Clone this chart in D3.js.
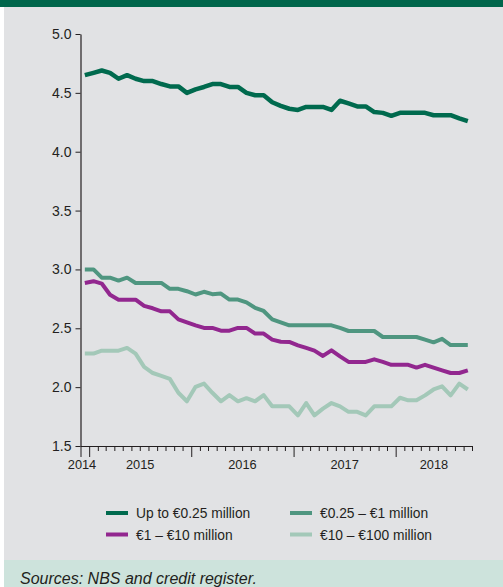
<!DOCTYPE html>
<html>
<head>
<meta charset="utf-8">
<script src="https://cdn.jsdelivr.net/npm/d3@7"></script>
<style>
  body { margin: 0; background: #ffffff; }
  svg { display: block; font-family: "Liberation Sans", Arial, sans-serif; }
</style>
</head>
<body>
<div id="chart"></div>
<script>
"use strict";
const serie_nombres = ["Up to €0.25 million", "€0.25 – €1 million", "€1 – €10 million", "€10 – €100 million"];
const serie_colores = ["#006a4e", "#4f9680", "#92278f", "#a3c8b8"];
const anios = ["2014", "2015", "2016", "2017", "2018"];
const y_ticks = [1.5, 2.0, 2.5, 3.0, 3.5, 4.0, 4.5, 5.0];
// monthly observations, Dec 2014 .. Sep 2018
const primer_mes = new Date(2014, 11, 1);
const num_meses = 46;
const hasta_025 = [4.65, 4.67, 4.69, 4.67, 4.62, 4.65, 4.62, 4.60, 4.60, 4.575,
    4.555, 4.555, 4.50, 4.53, 4.55, 4.575, 4.575, 4.55, 4.55, 4.50,
    4.48, 4.48, 4.42, 4.39, 4.365, 4.355, 4.38, 4.38, 4.38, 4.355,
    4.433, 4.41, 4.385, 4.385, 4.337, 4.33, 4.305, 4.33, 4.33, 4.33,
    4.33, 4.31, 4.31, 4.31, 4.283, 4.26];
const de_025_a_1 = [3.0, 3.0, 2.93, 2.93, 2.905, 2.93, 2.885, 2.885, 2.885, 2.885,
    2.835, 2.835, 2.815, 2.787, 2.81, 2.79, 2.795, 2.744, 2.744, 2.72,
    2.673, 2.647, 2.576, 2.55, 2.525, 2.525, 2.525, 2.525, 2.525, 2.525,
    2.503, 2.477, 2.477, 2.477, 2.477, 2.426, 2.426, 2.426, 2.426, 2.426,
    2.404, 2.381, 2.41, 2.358, 2.358, 2.358];
const de_1_a_10 = [2.885, 2.90, 2.88, 2.785, 2.743, 2.743, 2.743, 2.69, 2.67, 2.644,
    2.644, 2.576, 2.55, 2.525, 2.503, 2.503, 2.48, 2.48, 2.503, 2.503,
    2.455, 2.455, 2.404, 2.386, 2.384, 2.355, 2.333, 2.31, 2.265, 2.313,
    2.262, 2.214, 2.214, 2.214, 2.236, 2.214, 2.19, 2.19, 2.19, 2.166,
    2.19, 2.166, 2.143, 2.12, 2.12, 2.143];
const de_10_a_100 = [2.285, 2.285, 2.31, 2.31, 2.31, 2.333, 2.285, 2.172, 2.12, 2.096,
    2.07, 1.952, 1.88, 2.003, 2.03, 1.952, 1.88, 1.932, 1.88, 1.906,
    1.88, 1.932, 1.837, 1.837, 1.837, 1.76, 1.865, 1.76, 1.817, 1.865,
    1.837, 1.79, 1.79, 1.76, 1.837, 1.837, 1.837, 1.91, 1.888, 1.888,
    1.93, 1.98, 2.007, 1.93, 2.03, 1.98];
const series = [hasta_025, de_025_a_1, de_1_a_10, de_10_a_100];

const width = 503, height = 587;
const svg = d3.select("#chart").append("svg")
    .attr("width", width)
    .attr("height", height);

// panels
svg.append("rect").attr("x", 4).attr("y", 0).attr("width", width - 4).attr("height", 560).attr("fill", "#e1e2e4");
svg.append("rect").attr("x", 0).attr("y", 0).attr("width", width).attr("height", 7).attr("fill", "#00664b");
svg.append("rect").attr("x", 4).attr("y", 560).attr("width", width - 4).attr("height", 27).attr("fill", "#cde3dc");
svg.append("text")
    .attr("x", 20)
    .attr("y", 584)
    .style("font-size", "16px")
    .style("font-style", "italic")
    .attr("fill", "#231f20")
    .text("Sources: NBS and credit register.");

const meses = d3.timeMonth.range(primer_mes, d3.timeMonth.offset(primer_mes, num_meses + 1));
const x = d3.scaleTime()
    .domain([primer_mes, d3.timeMonth.offset(primer_mes, num_meses)])
    .range([80.5, 472]);
const y = d3.scaleLinear()
    .domain([1.5, 5.0])
    .range([446, 34]);
function fn_centro_mes(i) {
    let m = d3.timeMonth.offset(primer_mes, i);
    return (x(m) + x(d3.timeMonth.offset(m, 1))) / 2;
}

// y axis
let g_y = svg.append("g")
    .attr("transform", "translate(80.5,0)")
    .call(d3.axisLeft(y).tickValues(y_ticks).tickFormat(d3.format(".1f")).tickSize(5).tickSizeOuter(0).tickPadding(4));
g_y.select(".domain").attr("stroke", "#231f20").attr("stroke-width", 1.2);
g_y.selectAll(".tick line").attr("stroke", "#231f20");
g_y.selectAll(".tick text")
    .style("font-size", "14px")
    .style("font-family", "\"Liberation Sans\", Arial, sans-serif")
    .attr("fill", "#231f20");

// x axis
let g_x = svg.append("g")
    .attr("transform", "translate(0,446)")
    .call(d3.axisBottom(x).tickValues(meses.slice(0, num_meses + 1)).tickFormat("").tickSize(5).tickSizeOuter(0));
g_x.select(".domain").attr("stroke", "#231f20").attr("stroke-width", 1.2);
g_x.selectAll(".tick line")
    .attr("stroke", "#231f20")
    .attr("y2", (d, i) => (d.getMonth() == 0 || i == 0) ? 11 : 5);
anios.forEach((anio) => {
    let idx = [];
    for (let i = 0; i < num_meses; i++) {
        if (d3.timeMonth.offset(primer_mes, i).getFullYear() == +anio) idx.push(i);
    }
    let cx = (fn_centro_mes(idx[0]) + fn_centro_mes(idx[idx.length - 1])) / 2;
    if (idx.length == 1) cx = 82;
    svg.append("text")
        .attr("x", cx)
        .attr("y", 469)
        .attr("text-anchor", "middle")
        .style("font-size", "12.8px")
        .attr("fill", "#231f20")
        .text(anio);
});

// lines
let linea = d3.line()
    .x((d, i) => fn_centro_mes(i))
    .y((d) => y(d));
[3, 2, 1, 0].forEach((s) => {
    svg.append("path")
        .datum(series[s])
        .attr("d", linea)
        .attr("fill", "none")
        .attr("stroke", serie_colores[s])
        .attr("stroke-width", s == 0 ? 4.5 : 4)
        .attr("stroke-linejoin", "round");
});

// legend
let g_leyenda = svg.append("g").classed("g_leyenda", true);
serie_nombres.forEach((nombre, i) => {
    let lx = (i % 2 == 0) ? 106 : 290;
    let ly = (i < 2) ? 513 : 534.5;
    let g_item = g_leyenda.append("g").attr("transform", `translate(${lx},${ly})`);
    g_item.append("line")
        .attr("x1", 0)
        .attr("x2", 22)
        .attr("stroke", serie_colores[i])
        .attr("stroke-width", 4);
    g_item.append("text")
        .attr("x", 30)
        .attr("y", 5)
        .style("font-size", "13.8px")
        .attr("fill", "#231f20")
        .text(nombre);
});
</script>
</body>
</html>
